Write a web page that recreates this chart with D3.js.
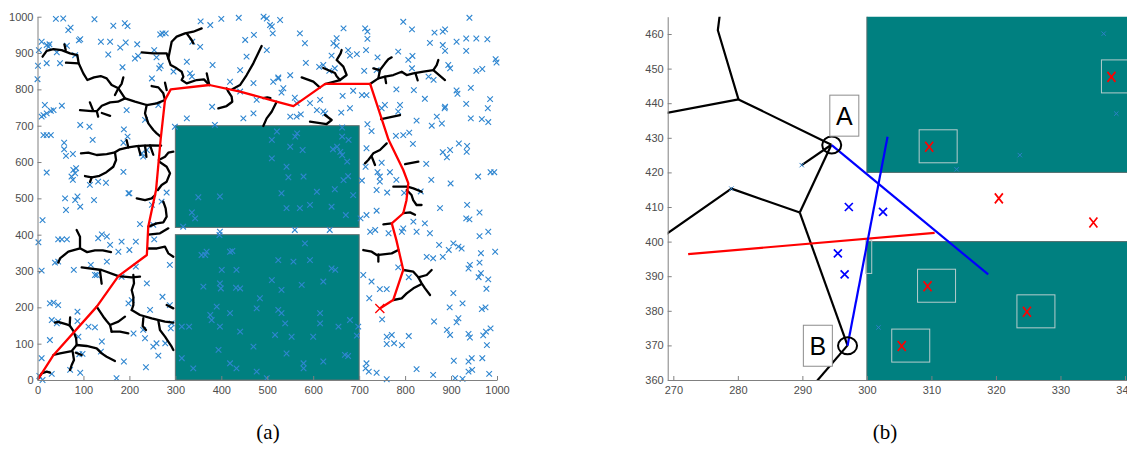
<!DOCTYPE html>
<html><head><meta charset="utf-8">
<script src="https://cdn.jsdelivr.net/npm/d3@7"></script>
<style>
body{margin:0;background:#fff;}
svg{display:block;}
.tick text{font-family:"Liberation Sans",Arial,sans-serif;font-size:11px;fill:#4d4d4d;}
</style></head>
<body><svg id="c" width="1127" height="470"></svg>
<script>
// ---------- Panel (a) data ----------
const ticksA = [0,100,200,300,400,500,600,700,800,900,1000];
const obstaclesA = [[300,700,0,400],[300,700,420,700]]; // x0,x1,y0,y1
const samplesA = [
[40,994],[56,995],[124,993],[165,975],[190,982],[196,974],[67,963],[72,970],[90,935],[93,938],[138,931],[158,931],[192,929],[217,924],[180,915],[9,931],[20,922],[26,924],[24,917],[3,908],[64,920],[42,902],[82,894],[49,872],[20,872],[1,865],[0,828],[154,896],[212,885],[219,892],[254,908],[267,951],[272,954],[279,954],[259,888],[249,830],[268,865],[265,858],[185,861],
[355,987],[376,977],[400,994],[438,997],[492,1000],[499,995],[506,977],[452,936],[471,950],[499,908],[455,890],[441,853],[513,821],[524,830],[470,817],[419,821],[381,867],[336,835],[325,876],[354,917],[337,931],[296,849],[332,844],[380,752],[441,794],[448,720],[477,771],[470,734],[386,702],[325,720],[299,697],
[16,757],[20,734],[13,729],[9,725],[35,743],[29,741],[53,755],[13,674],[20,674],[29,674],[58,653],[58,635],[62,617],[77,622],[93,702],[113,697],[120,661],[188,690],[196,670],[187,653],[238,633],[227,624],[20,571],[78,578],[82,569],[74,560],[77,551],[84,583],[114,537],[132,546],[149,543],[187,573],[198,514],[82,495],[194,743],[234,716],[263,757],[230,615],
[528,991],[510,973],[512,954],[571,954],[582,927],[666,968],[713,968],[718,959],[718,939],[651,941],[644,927],[651,920],[676,908],[680,893],[695,897],[715,908],[640,893],[584,873],[613,862],[622,867],[647,858],[635,851],[711,851],[740,888],[738,853],[785,904],[807,881],[816,892],[815,858],[796,986],[815,965],[864,956],[882,959],[887,965],[940,997],[854,928],[882,922],[887,906],[912,931],[933,940],[933,906],[955,940],[979,938],[997,883],[999,874],[955,851],[968,856],[894,867],[898,858],[851,835],[862,826],[843,774],[819,798],[781,800],[716,784],[706,784],[687,796],[664,782],[550,839],[524,833],[535,803],[531,791],[560,777],[564,762],[593,762],[615,771],[608,743],[622,739],[550,725],[564,725],[573,731],[626,734],[661,736],[680,748],[756,757],[749,748],[785,739],[789,757],[718,704],[727,685],[780,672],[796,674],[809,681],[817,650],[825,714],[858,700],[880,706],[869,725],[886,748],[887,752],[912,797],[914,788],[943,804],[933,760],[985,773],[980,748],[967,718],[943,720],[981,710],[917,651],[935,644],[934,628],[882,627],[891,613],[898,633],[846,595],[857,551],[899,541],[959,560],[986,572],[994,572],[749,598],[740,572],[745,560],[745,546],[767,572],[781,551],[761,516],[738,523],[714,587],[706,549],[716,638],[798,515],[834,519],
[521,684],[565,679],[561,670],[510,661],[550,642],[577,633],[643,635],[652,642],[659,628],[663,670],[677,661],[663,695],[663,619],[674,601],[510,610],[542,587],[546,558],[579,560],[608,518],[647,525],[666,550],[676,561],[531,514],
[2,379],[9,301],[11,440],[60,500],[87,505],[93,477],[62,468],[123,495],[200,514],[45,206],[45,161],[45,387],[53,387],[64,387],[38,323],[45,326],[79,303],[27,211],[35,213],[31,165],[42,156],[87,162],[89,119],[111,147],[125,145],[140,106],[87,188],[27,110],[9,60],[31,17],[4,11],[11,0],[71,28],[93,20],[91,71],[98,72],[138,78],[172,5],[188,51],[236,35],[252,92],[263,67],[259,101],[278,101],[230,138],[234,115],[209,128],[116,317],[125,289],[129,289],[151,326],[158,372],[183,381],[200,358],[214,381],[205,220],[198,211],[245,193],[238,266],[272,229],[288,206],[288,317],[292,156],[290,142],[254,387],[252,427],[223,429],[249,482],[270,491],[281,516],[151,395],[132,390],[140,401],[176,353],[183,284],[214,312],
[350,503],[397,505],[336,461],[343,445],[317,422],[397,408],[396,399],[357,344],[365,344],[368,353],[419,353],[424,355],[401,303],[433,303],[432,254],[441,252],[397,266],[399,252],[390,202],[397,147],[419,184],[441,133],[477,197],[484,225],[510,275],[376,179],[379,165],[314,147],[330,147],[361,257],[314,60],[339,32],[419,46],[433,32],[477,23],[499,5],[394,83],[470,92],
[738,466],[716,454],[703,445],[724,408],[735,413],[764,404],[793,408],[796,417],[818,436],[825,408],[843,431],[854,404],[876,473],[935,482],[933,445],[940,442],[962,461],[981,408],[962,396],[905,376],[916,367],[923,362],[895,358],[874,372],[847,339],[861,335],[882,339],[965,349],[996,353],[962,323],[941,317],[938,307],[965,294],[960,283],[981,277],[977,251],[905,239],[925,211],[897,200],[975,200],[967,195],[916,170],[912,159],[891,138],[898,124],[938,127],[941,117],[970,123],[976,133],[986,142],[978,96],[863,161],[808,121],[793,96],[760,119],[771,124],[760,99],[776,101],[750,167],[745,250],[760,250],[722,225],[709,289],[727,271],[785,310],[808,283],[698,147],[695,122],[716,46],[714,32],[721,23],[738,20],[760,2],[825,30],[861,14],[906,53],[909,5],[925,3],[938,23],[946,28],[945,60],[968,60],[983,17],[938,51],
[542,473],[571,473],[593,482],[640,477],[687,509],[671,454],[560,413],[636,413],[582,376],[557,326],[524,330],[593,330],[640,307],[648,303],[622,271],[575,262],[531,248],[524,193],[531,184],[539,156],[615,184],[615,156],[655,147],[680,165],[517,124],[553,119],[600,119],[542,73],[579,46],[622,51],[579,32],[669,69],[676,66]
];
const treeA = [
[[11,890],[20,906],[34.5,911],[52.6,908],[70.7,899],[86.7,894.5],[89.6,871.6],[99.7,844],[108.5,825.7],[123,833],[137.5,836.7],[150.5,830.3],[161.4,812],[176,802.8],[190.4,775.2],[212.2,766],[237.6,756.9],[259.4,761.5],[277.5,770.6]],
[[58.5,924],[61.3,908.3]],
[[62,873.4],[89.6,871.6]],
[[186.8,833],[183,815],[176,802.8]],
[[176,802.8],[168.6,784.4]],
[[190.4,775.2],[175,766],[158,764],[140,755],[129,740],[118,740],[92.5,743]],
[[114,764],[121,742]],[[129,740],[132,725]],[[140,735],[158,727]],
[[226.7,901.8],[252.1,899.1],[281.1,899.1],[284.7,885.3],[289.8,867],[302.9,857.8],[313.7,848.6],[317.4,834.9],[313.7,825.7],[324.6,816.5],[346.4,825.7],[362.3,827.5],[373.9,811.9]],
[[284.7,885.3],[288.4,908.3],[292,931.2],[302.9,945],[321,954.1],[339.1,958.7],[357.3,967.9]],
[[324.6,954.1],[335.5,935.8],[339.1,926.6]],
[[368.3,844],[373.9,811.9]],
[[248.4,809.2],[263,805.5],[273.8,789],[277.5,770.6]],
[[277.5,818.3],[281.1,798.2]],
[[393.5,747.7],[411.6,754.1],[423.9,766],[422.5,779.8],[415.3,793.6],[411.6,802.8]],
[[424,800],[440.7,811.9],[455.2,839.4],[469.7,871.6],[487.8,919.3]],
[[520.5,766],[509.6,738.5],[498.7,720.2],[491.4,699.1]],
[[491,776],[500,778],[507,776]],
[[94.6,624],[110.6,625.7],[128.8,619.3],[150.5,622],[168.6,626.6],[179.5,635],[197.7,640],[215.8,644],[230.3,645],[248.4,646],[269,645]],
[[194,660],[197.7,640]],[[219,644],[224,620]],[[234,645],[237,614]],[[245,646],[252,620]],
[[168.6,626.6],[171,605.5],[165,587],[150,572],[135,562],[118,558],[103.4,561.5]],
[[118,558],[114.3,545]],
[[216,500],[234,495],[248.5,500],[256,509]],
[[237.6,756.9],[234,734],[241.2,706.4],[252.1,688],[259.4,678.9],[268,669.7]],
[[264,605.5],[277.5,614.7],[284.7,625.7],[295.6,628.4]],
[[266,600],[281.1,587.2],[288.4,568.8],[281.1,545.9],[270.2,536.7],[262,523]],
[[0,0],[1.8,4.6],[9.1,18.3],[20,22.9],[27.2,20.2]],
[[34.5,68.8],[49,73.4],[74.4,79.8],[85.2,96.3],[107,93.6],[128.8,87.2],[139.6,73.4],[150.5,64.2],[168.6,52.3]],
[[76.5,78],[79.4,55],[74.4,41.3],[70.7,27.5]],[[83.3,75],[96.1,68.8]],
[[85.2,96.3],[84,115],[78,135],[70,150],[63.5,153],[45,160],[38,158]],[[70,150],[71,172]],
[[128.8,201.8],[136,188.1],[143.3,174.3],[150.5,162.4],[157.8,151.4],[161.4,133]],
[[157.8,151.4],[175.9,160.6],[190.4,174.3]],
[[161.4,133],[179.5,133],[197.7,128.4]],
[[205,192.7],[223.1,178.9],[248.5,169.7],[277.5,160.6],[295.6,157.8]],
[[208.6,289],[210,266],[205,247.7],[208.6,229.4],[208.6,206.4],[205,192.7]],
[[96.1,310.1],[139.6,302.8],[176,286],[205,282.6],[223.1,284.4]],
[[136,300],[139.6,265]],
[[230.3,170],[228.9,148.6],[236.1,137.6]],
[[263,163],[266.5,137.6],[277.5,119.3],[284.7,105.5],[292,91.7],[295.6,82.6]],
[[281.1,206.4],[295.6,197.2]],
[[85.2,412.8],[92.5,394.5],[92.5,362.4],[67.1,353.2],[49,334.9],[45.3,323]],
[[92.5,362.4],[108,352],[125,357],[142,357],[160,352]],
[[241.2,422],[259.4,431.2],[273.8,434],[281.1,449.5],[278.9,472.5],[273.8,490.8]],
[[241,400],[266.5,403.7],[284.7,417.4]],
[[240,362],[260,362],[277.5,367],[284.7,348.6],[295.6,339.4]],
[[614.8,805],[600.3,821.1],[574.9,833]],
[[625.7,814.7],[658.3,825.7],[672.8,839.4],[665.6,862.4],[651,880.7],[659.7,899.1],[661.9,908.3]],
[[658.3,825.7],[651,836],[647.3,845],[621.9,858.7]],
[[723.6,814.7],[741.7,830.3],[756.3,834.9],[774.4,839.4],[792.5,848.6],[803.4,839.4],[817.9,844],[839.7,848.6],[861.4,853.2],[868.7,867],[872.3,880.7]],
[[861.4,853.2],[886.8,825.7]],
[[741.7,830.3],[745.3,853.2],[756.3,871.6],[763.5,882.6],[770.8,888.1]],
[[745.3,853.2],[730.8,857.8]],
[[756.3,834.9],[758.6,817]],
[[822.9,843],[827.3,825]],
[[748,718],[788.9,729.4]],
[[760,651.4],[745.3,633],[730.8,623.9],[719.9,605.5],[712.7,596.3]],
[[727.3,614.7],[734.5,591.7]],
[[800,594],[828.8,600.9]],
[[805,532],[818,527.5],[836.1,518.3]],
[[805,532],[774.4,532.1]],
[[593,711],[629.3,704.6],[640.2,715.6],[625.7,729.4]],
[[803.5,523],[814,509.2],[817.6,495.4],[824.9,481.7],[835.8,481.7]],
[[796.2,459.6],[810.7,461.5],[821.6,455]],
[[752.7,428.4],[770.8,431]],
[[709.1,357.8],[727.3,353.2],[738.2,344],[770.8,348.6],[785.3,357.8]],
[[741.8,346],[741.8,325.7]],
[[796.2,302.8],[818,298.2],[828.8,282.6],[847,289],[857.8,302.8]],
[[828.8,282.6],[836.1,266.1],[843.4,252.3],[854.3,233.9]],
[[774.4,220.2],[792.5,224.8],[803.4,238.5],[818,252.3],[836.1,264.2]]
];
const pathA = [[0,0],[35,69],[129,202],[176,286],[238,344],[241,422],[258,523],[268,662],[277.5,771],[290,800],[374,812],[441,794],[520,766],[557,754],[626,815],[724,815],[764,661],[796,578],[807,541],[803,495],[796,459],[771,431],[781,385],[796,303],[774,220],[745,197]];
const goalA = [745,197];

// ---------- Panel (b) data ----------
const xTicksB = [270,280,290,300,310,320,330,340];
const yTicksB = [360,370,380,390,400,410,420,430,440,450,460];
const obstaclesB = [[300,345,420,470],[300,345,355,400]];
const treeB = [
[[277.3,467],[276.9,461.1],[280.1,441.1]],
[[267,436.5],[280.1,441.1],[294.5,428]],
[[294.5,428],[289.9,422.1]],
[[294.5,428],[289.6,408.4]],
[[289.6,408.4],[279,415.3],[268,401]],
[[289.6,408.4],[297,370]],
[[297,370],[291,357]]
];
const nodesB = [[289.9,422.1],[279,415.3],[336.7,460.1],[338.65,437],[323.7,425],[313.9,420.9],[301.8,375.2]];
const pointA = [294.55,427.9], pointB = [297,369.9];
const labelsB = [{t:"A",x:296.5,y:436.4},{t:"B",x:292.4,y:369.9}];
const blueLinesB = [[[294.55,427.9],[318.8,390.5]],[[297,369.9],[303.2,430.3]]];
const redLineB = [[272.3,396.4],[310.5,402.5]];
const blueXsB = [[297.2,410],[302.5,408.6],[295.5,396.6],[296.55,390.5]];
const redXsB = [[320.45,412.5],[335.1,405.5],[337.9,447.6],[309.65,427.4],[309.4,387.1],[324.8,379.7],[305.4,369.8]];
const boxedB = [false,false,true,true,true,true,true];
const extraBoxB = [[299.8,300.75,390.8,400.4]];

// ---------- drawing ----------
const svg = d3.select("#c");
const axisCol = "#808080";
function styleAxis(g){
  g.select(".domain").attr("stroke",axisCol).attr("stroke-width",1);
  g.selectAll(".tick line").attr("stroke",axisCol);
}
const cross = (s)=>`M${-s},${-s}L${s},${s}M${-s},${s}L${s},${-s}`;
const fmt = d3.format("d");

// Panel a
const xa = d3.scaleLinear().domain([0,1000]).range([37.5,497]);
const ya = d3.scaleLinear().domain([0,1000]).range([380,16.7]);
svg.append("clipPath").attr("id","clipA").append("rect")
  .attr("x",37.5).attr("y",16.7).attr("width",459.5).attr("height",363.3);
const gA = svg.append("g");
gA.selectAll("rect.obs").data(obstaclesA).enter().append("rect")
  .attr("x",d=>xa(d[0])).attr("y",d=>ya(d[3]))
  .attr("width",d=>xa(d[1])-xa(d[0])).attr("height",d=>ya(d[2])-ya(d[3]))
  .attr("fill","#008080").attr("stroke","#5f6f6f").attr("stroke-width",1);
gA.append("g").selectAll("path").data(samplesA).enter().append("path")
  .attr("transform",d=>`translate(${xa(d[0])},${ya(d[1])})`)
  .attr("d",cross(2.8)).attr("stroke","#2f86d0").attr("stroke-width",1.1).attr("fill","none");
const lineA = d3.line().x(d=>xa(d[0])).y(d=>ya(d[1]));
const gT = gA.append("g").attr("clip-path","url(#clipA)");
gT.selectAll("path").data(treeA).enter().append("path")
  .attr("d",lineA).attr("fill","none").attr("stroke","#000").attr("stroke-width",2.3)
  .attr("stroke-linejoin","round").attr("stroke-linecap","round");
gT.append("path").datum(pathA).attr("d",lineA).attr("fill","none").attr("stroke","#ff0000")
  .attr("stroke-width",2.3).attr("stroke-linejoin","round");
gA.append("path").attr("transform",`translate(${xa(goalA[0])},${ya(goalA[1])})`)
  .attr("d",cross(4.5)).attr("stroke","#ff0000").attr("stroke-width",1.3);

const axLA = svg.append("g").attr("transform","translate(37.5,0)")
  .call(d3.axisLeft(ya).tickValues(ticksA).tickFormat(fmt).tickSize(-4).tickSizeOuter(0).tickPadding(4));
styleAxis(axLA);
const axBA = svg.append("g").attr("transform","translate(0,380)")
  .call(d3.axisBottom(xa).tickValues(ticksA).tickFormat(fmt).tickSize(-4).tickSizeOuter(0).tickPadding(6));
styleAxis(axBA);

// Panel b
const xb = d3.scaleLinear().domain([269.13,340.31]).range([667.7,1127]);
const yb = d3.scaleLinear().domain([360,465]).range([380,16.7]);
svg.append("clipPath").attr("id","clipB").append("rect")
  .attr("x",667.7).attr("y",16.7).attr("width",460).attr("height",363.3);
const gB = svg.append("g").attr("clip-path","url(#clipB)");
gB.selectAll("rect.obs").data(obstaclesB).enter().append("rect")
  .attr("x",d=>xb(d[0])).attr("y",d=>yb(d[3]))
  .attr("width",d=>xb(d[1])-xb(d[0])).attr("height",d=>yb(d[2])-yb(d[3]))
  .attr("fill","#008080").attr("stroke","#4f6b6b").attr("stroke-width",1);
const lineB = d3.line().x(d=>xb(d[0])).y(d=>yb(d[1]));
gB.selectAll("rect.box").data(redXsB.filter((d,i)=>boxedB[i])).enter().append("rect")
  .attr("x",d=>xb(d[0])-10).attr("y",d=>yb(d[1])-17).attr("width",38).attr("height",33)
  .attr("fill","none").attr("stroke","#b5cccc").attr("stroke-width",1);
gB.selectAll("rect.xbox").data(extraBoxB).enter().append("rect")
  .attr("x",d=>xb(d[0])).attr("y",d=>yb(d[3])).attr("width",d=>xb(d[1])-xb(d[0])).attr("height",d=>yb(d[2])-yb(d[3]))
  .attr("fill","none").attr("stroke","#b5cccc").attr("stroke-width",1);
gB.selectAll("path.tree").data(treeB).enter().append("path")
  .attr("d",lineB).attr("fill","none").attr("stroke","#000").attr("stroke-width",2.2)
  .attr("stroke-linejoin","round");
gB.selectAll("path.node").data(nodesB).enter().append("path")
  .attr("transform",d=>`translate(${xb(d[0])},${yb(d[1])})`)
  .attr("d",cross(2.2)).attr("stroke","#2f7fc8").attr("stroke-width",1).attr("fill","none");
gB.append("path").datum(redLineB).attr("d",lineB).attr("fill","none").attr("stroke","#ff0000").attr("stroke-width",2.2);
gB.selectAll("path.bl").data(blueLinesB).enter().append("path")
  .attr("d",lineB).attr("fill","none").attr("stroke","#0000ff").attr("stroke-width",2.2);
gB.selectAll("path.bx").data(blueXsB).enter().append("path")
  .attr("transform",d=>`translate(${xb(d[0])},${yb(d[1])})`)
  .attr("d","M-4,-4L4,4M-4,4L4,-4").attr("stroke","#0000ff").attr("stroke-width",1.7).attr("fill","none");
gB.selectAll("path.rx").data(redXsB).enter().append("path")
  .attr("transform",d=>`translate(${xb(d[0])},${yb(d[1])})`)
  .attr("d","M-4,-5L4,5M-4,5L4,-5").attr("stroke","#ff0000").attr("stroke-width",1.7).attr("fill","none");
gB.selectAll("ellipse").data([pointA,pointB]).enter().append("ellipse")
  .attr("cx",d=>xb(d[0])).attr("cy",d=>yb(d[1])).attr("rx",9.5).attr("ry",8.5)
  .attr("fill","none").attr("stroke","#000").attr("stroke-width",2);
const lg = gB.selectAll("g.lab").data(labelsB).enter().append("g")
  .attr("transform",d=>`translate(${xb(d.x)},${yb(d.y)})`);
lg.append("rect").attr("x",-14.5).attr("y",-20.5).attr("width",29).attr("height",41)
  .attr("fill","#fff").attr("stroke","#8c8c8c").attr("stroke-width",1);
lg.append("text").text(d=>d.t).attr("text-anchor","middle").attr("dy","0.36em")
  .attr("font-family","Liberation Sans,Arial,sans-serif").attr("font-size",25).attr("fill","#000");

const axLB = svg.append("g").attr("transform","translate(667.7,0)")
  .call(d3.axisLeft(yb).tickValues(yTicksB).tickFormat(fmt).tickSize(-4).tickSizeOuter(0).tickPadding(4));
styleAxis(axLB);
const axBB = svg.append("g").attr("transform","translate(0,380)")
  .call(d3.axisBottom(xb).tickValues(xTicksB).tickFormat(fmt).tickSize(-4).tickSizeOuter(0).tickPadding(6));
styleAxis(axBB);

// sub-captions
svg.append("text").attr("x",268).attr("y",439).attr("text-anchor","middle")
  .attr("font-family","Liberation Serif,DejaVu Serif,serif").attr("font-size",21).attr("fill","#000").text("(a)");
svg.append("text").attr("x",885).attr("y",439).attr("text-anchor","middle")
  .attr("font-family","Liberation Serif,DejaVu Serif,serif").attr("font-size",21).attr("fill","#000").text("(b)");
</script></body></html>
